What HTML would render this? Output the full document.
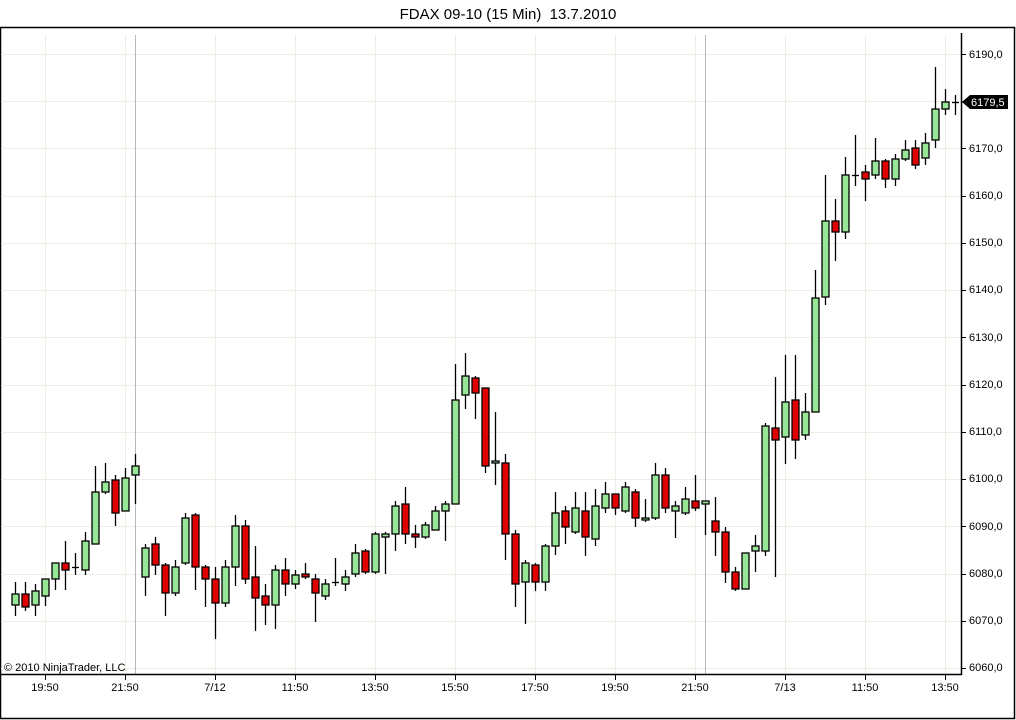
<!DOCTYPE html>
<html><head><meta charset="utf-8"><style>
html,body{margin:0;padding:0;background:#fff;}
svg{display:block;font-family:"Liberation Sans",Arial,sans-serif;}
</style></head><body>
<svg id="c" width="1016" height="720" viewBox="0 0 1016 720" xmlns="http://www.w3.org/2000/svg">
<rect x="0" y="0" width="1016" height="720" fill="#fff"/>
<text x="508" y="19" font-size="15" text-anchor="middle" fill="#000">FDAX 09-10 (15 Min)&#160; 13.7.2010</text>
<rect x="0.5" y="27.5" width="1014" height="691" fill="none" stroke="#000" stroke-width="1.5"/>
<g id="grid" stroke="#f0ede5" stroke-width="1"></g>
<line x1="135.5" y1="35" x2="135.5" y2="674" stroke="#b8b8b8"/>
<line x1="705.5" y1="35" x2="705.5" y2="674" stroke="#b8b8b8"/>
<g id="candles"></g>
<line x1="0" y1="674.5" x2="962" y2="674.5" stroke="#000" stroke-width="1.5"/>
<line x1="961.5" y1="33" x2="961.5" y2="675" stroke="#000" stroke-width="1.5"/>
<g id="axis" font-size="11" fill="#000"></g>
<text x="4" y="671" font-size="11" fill="#000">© 2010 NinjaTrader, LLC</text>
<polygon points="962,102 970,95 1008,95 1008,109 970,109" fill="#000"/>
<text x="971" y="106" font-size="11" fill="#fff">6179,5</text>
<g font-size="11" fill="#000" text-anchor="middle">
<text x="45" y="691">19:50</text><text x="125" y="691">21:50</text><text x="215" y="691">7/12</text>
<text x="295" y="691">11:50</text><text x="375" y="691">13:50</text><text x="455" y="691">15:50</text>
<text x="535" y="691">17:50</text><text x="615" y="691">19:50</text><text x="695" y="691">21:50</text>
<text x="785" y="691">7/13</text><text x="865" y="691">11:50</text><text x="945" y="691">13:50</text>
</g>
<g font-size="11" fill="#000">
<text x="969" y="58">6190,0</text><text x="969" y="152">6170,0</text><text x="969" y="199">6160,0</text>
<text x="969" y="246">6150,0</text><text x="969" y="293">6140,0</text><text x="969" y="341">6130,0</text>
<text x="969" y="388">6120,0</text><text x="969" y="435">6110,0</text><text x="969" y="482">6100,0</text>
<text x="969" y="530">6090,0</text><text x="969" y="577">6080,0</text><text x="969" y="624">6070,0</text>
<text x="969" y="671">6060,0</text>
</g>
</svg>
<script>
var NS="http://www.w3.org/2000/svg";
function el(p,t,a){var e=document.createElementNS(NS,t);for(var k in a)e.setAttribute(k,a[k]);p.appendChild(e);return e;}
var g=document.getElementById("grid"),ax=document.getElementById("axis");
var vx=[45,125,215,295,375,455,535,615,695,785,865,945];
vx.forEach(function(x){el(g,"line",{x1:x+.5,y1:35,x2:x+.5,y2:674});el(ax,"line",{x1:x+.5,y1:674,x2:x+.5,y2:680,stroke:"#000"});});
for(var k=0;k<=13;k++){var y=Math.round(54+k*47.23)+.5;el(g,"line",{x1:1,y1:y,x2:961,y2:y});el(ax,"line",{x1:961,y1:y,x2:966,y2:y,stroke:"#000"});}
var d=[
[582,594,605,616,'g'],[582,594,607,611,'r'],[584,591,605,616,'g'],[579,579,596,606,'g'],[563,563,579,590,'g'],
[541,563,570,590,'r'],[553,567,567,575,'c'],[532,541,570,575,'g'],[466,492,544,544,'g'],[463,482,492,494,'g'],
[475,480,513,526,'r'],[468,478,511,511,'g'],[454,466,475,504,'g'],[544,548,577,596,'g'],[537,544,565,575,'r'],
[563,565,593,616,'r'],[560,567,593,596,'g'],[513,518,563,565,'g'],[513,515,567,590,'r'],[565,567,579,607,'r'],
[567,579,603,639,'r'],[560,567,603,607,'g'],[515,526,567,586,'g'],[520,526,579,584,'r'],[546,577,598,631,'r'],
[584,596,605,625,'r'],[565,570,605,629,'g'],[558,570,584,596,'r'],[570,575,584,589,'g'],[563,574,577,579,'r'],
[574,579,593,622,'r'],[579,584,596,600,'g'],[558,582,582,586,'c'],[570,577,584,591,'g'],[544,553,574,577,'g'],
[549,551,572,574,'r'],[532,534,572,574,'g'],[532,534,537,574,'g'],[501,506,534,551,'g'],[487,504,534,544,'r'],
[525,534,537,548,'r'],[522,525,537,539,'g'],[506,511,530,530,'g'],[501,504,511,541,'g'],[364,400,504,504,'g'],
[353,376,395,409,'g'],[376,378,393,419,'r'],[388,388,466,473,'r'],[412,461,463,485,'g'],[454,463,534,560,'r'],
[530,534,584,607,'r'],[560,563,582,624,'g'],[563,565,582,591,'r'],[544,546,582,591,'g'],[492,513,546,555,'g'],
[506,511,527,544,'r'],[492,508,532,534,'g'],[492,511,537,556,'r'],[489,506,539,546,'g'],[482,494,508,513,'g'],
[494,494,508,515,'r'],[482,487,511,513,'g'],[489,492,518,527,'r'],[499,518,520,522,'g'],[463,475,518,520,'g'],
[468,475,508,513,'r'],[501,506,511,538,'g'],[487,499,513,515,'g'],[475,501,508,511,'r'],[501,501,504,535,'g'],
[497,521,532,556,'r'],[527,532,572,583,'r'],[567,572,589,591,'r'],[553,553,589,589,'g'],[535,546,551,572,'g'],
[423,426,551,556,'g'],[377,428,440,577,'r'],[355,402,437,464,'g'],[355,400,440,459,'r'],[393,412,435,440,'g'],
[270,298,412,412,'g'],[175,221,297,305,'g'],[199,221,232,261,'r'],[157,175,232,239,'g'],[135,175,175,186,'c'],
[165,172,179,201,'r'],[138,161,175,179,'g'],[159,161,179,188,'r'],[154,159,179,186,'g'],[140,150,159,161,'g'],
[140,148,165,169,'r'],[133,143,158,165,'g'],[67,109,140,148,'g'],[89,102,109,115,'g'],[95,102,102,115,'c']];
var cg=document.getElementById("candles");
d.forEach(function(c,i){var x=15+i*10;
el(cg,"line",{x1:x+.5,y1:c[0],x2:x+.5,y2:c[3],stroke:"#000","stroke-width":1.3});
if(c[4]=='c'){el(cg,"line",{x1:x-3,y1:c[1]+.5,x2:x+4,y2:c[1]+.5,stroke:"#000","stroke-width":1.3});}
else{var h=Math.max(c[2]-c[1],2);el(cg,"rect",{x:x-3,y:c[1],width:7,height:h,fill:c[4]=='g'?'#98e698':'#e00000',stroke:"#000","stroke-width":1.3});}
});
</script>
</body></html>
